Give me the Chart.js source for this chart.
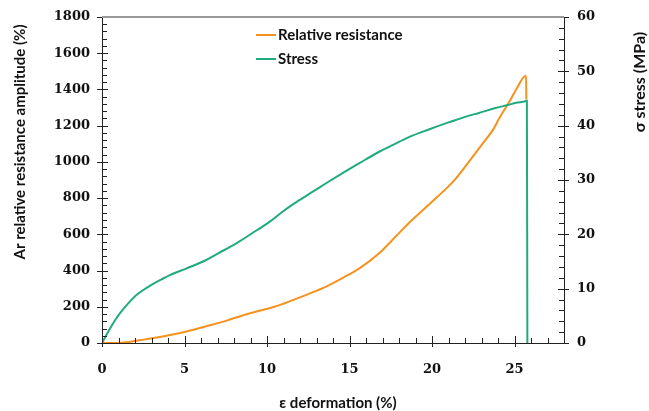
<!DOCTYPE html>
<html lang="en">
<head>
    <meta charset="UTF-8">
    <title>Relative resistance and stress vs deformation</title>
    <style>
        body {
            margin: 0;
            background: #fff;
        }
        #chart {
            display: block;
        }
    </style>
</head>
<body>
    <canvas id="chart" width="649" height="411"></canvas>

    <script src="https://cdn.jsdelivr.net/npm/chart.js"></script>
    <script>
        // deformation (%) and relative resistance amplitude (%)
        const resStrain = [0, 0.8, 1.6, 2.6, 3.6, 4.6, 5.6, 6.6, 7.6, 8.6, 9.55, 10.45, 11.56, 12.5, 13.58, 14.6, 15.6, 16.8, 17.6, 18.8, 20.0, 21.0, 21.4, 22.0, 23.0, 23.75, 24.0, 24.75, 25.1, 25.7, 25.72];
        const resValues = [0, 0, 5, 20, 35, 53, 75, 99, 125, 155, 178, 200, 237, 270, 311, 360, 412, 495, 569, 680, 780, 865, 903, 973, 1093, 1185, 1228, 1342, 1400, 1475, 1345];

        // deformation (%) and stress (MPa)
        const stressStrain = [0, 0.4, 0.79, 1.2, 1.59, 2.2, 3.0, 3.6, 4.11, 5.1, 6.12, 7.1, 8.14, 9.1, 10.15, 11.0, 11.96, 12.8, 13.58, 14.6, 15.6, 16.8, 17.6, 18.6, 19.8, 21.0, 21.6, 22.3, 22.8, 23.8, 24.6, 25.1, 25.66, 25.75, 25.78];
        const stressValues = [0, 2.2, 4.2, 5.9, 7.3, 9.1, 10.7, 11.7, 12.5, 13.7, 15.0, 16.6, 18.35, 20.2, 22.3, 24.3, 26.3, 27.9, 29.4, 31.3, 33.1, 35.2, 36.4, 37.9, 39.3, 40.6, 41.2, 41.9, 42.3, 43.2, 43.8, 44.2, 44.5, 44.6, 0];

        const seriesLabels = ['Relative resistance', 'Stress'];
        const xTitle = '\u03b5 deformation (%)';
        const yTitle = 'Ar relative resistance amplitude (%)';
        const y1Title = '\u03c3 stress (MPa)';

        const ORANGE = '#f5921e';
        const GREEN = '#1faa80';
        const AXIS = '#222';
        const tickFont = { family: 'DejaVu Serif', size: 13, weight: 'bold' };
        const TITLE_FONT = 'bold 15px Lato';

        const toPoints = (xs, ys) => xs.map((x, i) => ({ x: x, y: ys[i] }));

        function tick(ctx, x1, y1, x2, y2) {
            ctx.beginPath();
            ctx.moveTo(x1, y1);
            ctx.lineTo(x2, y2);
            ctx.stroke();
        }

        // minor + major tick marks (majors cross the axis)
        const minorTicks = {
            id: 'minorTicks',
            afterDatasetsDraw(chart) {
                const ctx = chart.ctx;
                const area = chart.chartArea;
                const sx = chart.scales.x, sy = chart.scales.y, sy1 = chart.scales.y1;
                ctx.save();
                ctx.strokeStyle = AXIS;
                ctx.lineWidth = 1;
                for (let v = 0; v <= 28; v++) {
                    const px = Math.round(sx.getPixelForValue(v)) + 0.5;
                    const major = v % 5 === 0;
                    tick(ctx, px, area.bottom - (major ? 7 : 5), px, area.bottom + (major ? 4 : 0));
                }
                for (let v = 0; v <= 1800; v += 40) {
                    const py = Math.round(sy.getPixelForValue(v)) + 0.5;
                    const major = v % 200 === 0;
                    tick(ctx, area.left - (major ? 5 : 0), py, area.left + (major ? 6 : 5), py);
                }
                for (let v = 0; v <= 60; v += 2) {
                    const py = Math.round(sy1.getPixelForValue(v)) + 0.5;
                    const major = v % 10 === 0;
                    tick(ctx, area.right - (major ? 6 : 5), py, area.right + (major ? 5 : 0), py);
                }
                ctx.restore();
            }
        };

        // frame top, axis titles and the legend
        const decor = {
            id: 'decor',
            afterDraw(chart) {
                const ctx = chart.ctx;
                const area = chart.chartArea;
                ctx.save();
                ctx.strokeStyle = '#999';
                ctx.lineWidth = 2;
                tick(ctx, area.left, area.top, area.right, area.top);

                ctx.fillStyle = '#111';
                ctx.font = TITLE_FONT;
                ctx.textAlign = 'center';
                ctx.textBaseline = 'middle';
                ctx.fillText(xTitle, 338, 403);

                ctx.save();
                ctx.translate(20, 142);
                ctx.rotate(-Math.PI / 2);
                ctx.fillText(yTitle, 0, 0);
                ctx.restore();

                ctx.save();
                ctx.translate(640, 82);
                ctx.rotate(-Math.PI / 2);
                ctx.font = 'bold 16px Lato';
                ctx.fillText(y1Title, 0, 0);
                ctx.restore();

                ctx.textAlign = 'left';
                chart.data.datasets.forEach((ds, i) => {
                    const y = 35 + i * 24;
                    ctx.strokeStyle = ds.borderColor;
                    ctx.lineWidth = 2;
                    tick(ctx, 256, y, 276, y);
                    ctx.fillText(ds.label, 278, y);
                });
                ctx.restore();
            }
        };

        // fixed axis box sizes, no extra overflow padding
        function fixBox(size) {
            return (scale) => {
                if (scale.isHorizontal()) {
                    scale.height = size;
                    scale.paddingLeft = 0;
                    scale.paddingRight = 0;
                } else {
                    scale.width = size;
                    scale.paddingTop = 0;
                    scale.paddingBottom = 0;
                }
            };
        }

        new Chart(document.getElementById('chart'), {
            type: 'scatter',
            data: {
                datasets: [{
                    label: seriesLabels[0],
                    data: toPoints(resStrain, resValues),
                    borderColor: ORANGE,
                    yAxisID: 'y',
                    order: 2
                }, {
                    label: seriesLabels[1],
                    data: toPoints(stressStrain, stressValues),
                    borderColor: GREEN,
                    yAxisID: 'y1',
                    order: 1
                }]
            },
            options: {
                responsive: false,
                animation: false,
                layout: { padding: { top: 17, left: 0, right: 0, bottom: 0 } },
                elements: {
                    point: { radius: 0 },
                    line: { borderWidth: 2, cubicInterpolationMode: 'monotone', fill: false }
                },
                datasets: { scatter: { showLine: true } },
                plugins: {
                    legend: { display: false },
                    tooltip: { enabled: false }
                },
                scales: {
                    x: {
                        type: 'linear',
                        min: 0,
                        max: 28,
                        afterFit: fixBox(68),
                        grid: { drawOnChartArea: false, drawTicks: false },
                        border: { color: AXIS, width: 1 },
                        ticks: {
                            stepSize: 5,
                            padding: 19,
                            color: '#111',
                            font: tickFont,
                            callback: (v) => (v % 5 === 0 && v <= 25 ? String(v) : '')
                        }
                    },
                    y: {
                        position: 'left',
                        min: 0,
                        max: 1800,
                        afterFit: fixBox(102),
                        grid: { drawOnChartArea: false, drawTicks: false },
                        border: { color: AXIS, width: 1 },
                        ticks: { stepSize: 200, padding: 12, color: '#111', font: tickFont, callback: (v) => String(v) }
                    },
                    y1: {
                        position: 'right',
                        min: 0,
                        max: 60,
                        afterFit: fixBox(85),
                        grid: { drawOnChartArea: false, drawTicks: false },
                        border: { color: AXIS, width: 1 },
                        ticks: { stepSize: 10, padding: 13, color: '#111', font: tickFont, callback: (v) => String(v) }
                    }
                }
            },
            plugins: [minorTicks, decor]
        });
    </script>
</body>
</html>
